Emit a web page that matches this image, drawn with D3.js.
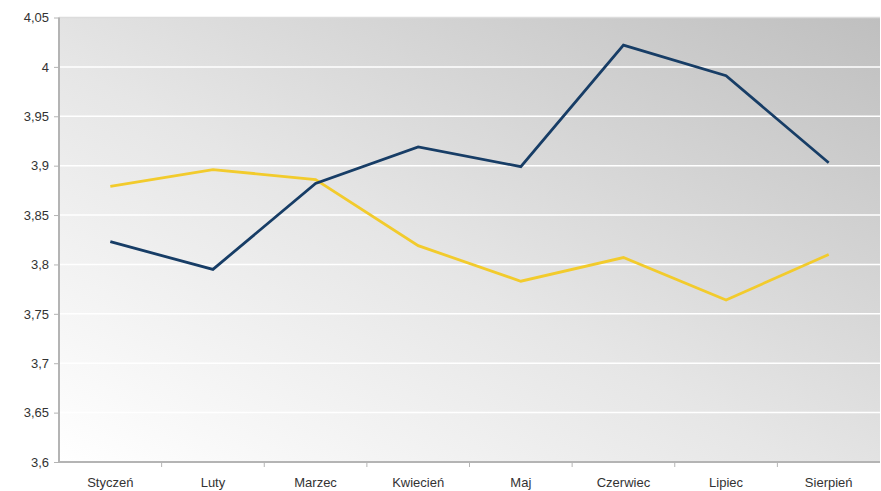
<!DOCTYPE html>
<html><head><meta charset="utf-8">
<script src="https://cdn.jsdelivr.net/npm/d3@7"></script>
<style>body{margin:0;background:#fff}svg{display:block}</style>
</head><body>
<script>
const categories = ["Styczeń","Luty","Marzec","Kwiecień","Maj","Czerwiec","Lipiec","Sierpień"];
const seriesBlue = [3.823,3.795,3.882,3.919,3.899,4.022,3.991,3.903];
const seriesYellow = [3.879,3.896,3.886,3.819,3.783,3.807,3.764,3.810];
const yTicks = [3.6,3.65,3.7,3.75,3.8,3.85,3.9,3.95,4,4.05];

const W=881,H=491;
const m={l:59,r:1,t:17.5,b:29};
const svg=d3.select("body").append("svg").attr("width",W).attr("height",H);
const defs=svg.append("defs");
const g=defs.append("linearGradient").attr("id","bg").attr("x1","0%").attr("y1","100%").attr("x2","100%").attr("y2","0%");
g.append("stop").attr("offset","0%").attr("stop-color","#ffffff");
g.append("stop").attr("offset","45%").attr("stop-color","#e6e6e6");
g.append("stop").attr("offset","100%").attr("stop-color","#bfbfbf");

const x=d3.scaleBand().domain(categories).range([m.l,W-m.r]);
const y=d3.scaleLinear().domain([3.6,4.05]).range([H-m.b,m.t]);

svg.append("rect").attr("x",m.l).attr("y",m.t).attr("width",W-m.r-m.l).attr("height",H-m.b-m.t).attr("fill","url(#bg)");

// gridlines
svg.append("g").selectAll("line").data(yTicks.slice(1)).join("line")
 .attr("x1",m.l).attr("x2",W-m.r).attr("y1",d=>y(d)).attr("y2",d=>y(d))
 .attr("stroke",d=>d===4.05?"#dcdcdc":"#ffffff").attr("stroke-width",1.5);

const fmt=d=>String(d).replace(".",",");
const yAxis=svg.append("g").attr("transform",`translate(${m.l},0)`)
 .call(d3.axisLeft(y).tickValues(yTicks).tickFormat(fmt).tickSize(5).tickPadding(5));
const xAxis=svg.append("g").attr("transform",`translate(0,${H-m.b})`)
 .call(d3.axisBottom(x).tickSize(0).tickPadding(16));
// x ticks at band boundaries
svg.append("g").selectAll("line").data(categories.slice(1)).join("line")
 .attr("x1",d=>x(d)).attr("x2",d=>x(d)).attr("y1",H-m.b).attr("y2",H-m.b+5)
 .attr("stroke","#b4b4b4").attr("stroke-width",1);
[yAxis,xAxis].forEach(a=>{
 a.selectAll(".domain").attr("stroke","#b4b4b4").attr("stroke-width",2);
 a.selectAll(".tick line").attr("stroke","#b4b4b4");
 a.selectAll("text").attr("font-family","Liberation Sans, Arial, sans-serif").attr("font-size",13).attr("fill","#333");
});
yAxis.select(".domain").attr("d",`M0,${m.t}V${H-m.b}`);
xAxis.select(".domain").attr("d",`M${m.l},0H${W-m.r}`);

const line=d3.line().x((d,i)=>x(categories[i])+x.bandwidth()/2).y(d=>y(d));
svg.append("path").datum(seriesYellow).attr("d",line).attr("fill","none").attr("stroke","#f2cb2c").attr("stroke-width",2.8);
svg.append("path").datum(seriesBlue).attr("d",line).attr("fill","none").attr("stroke","#173d66").attr("stroke-width",2.8);
</script>
</body></html>
